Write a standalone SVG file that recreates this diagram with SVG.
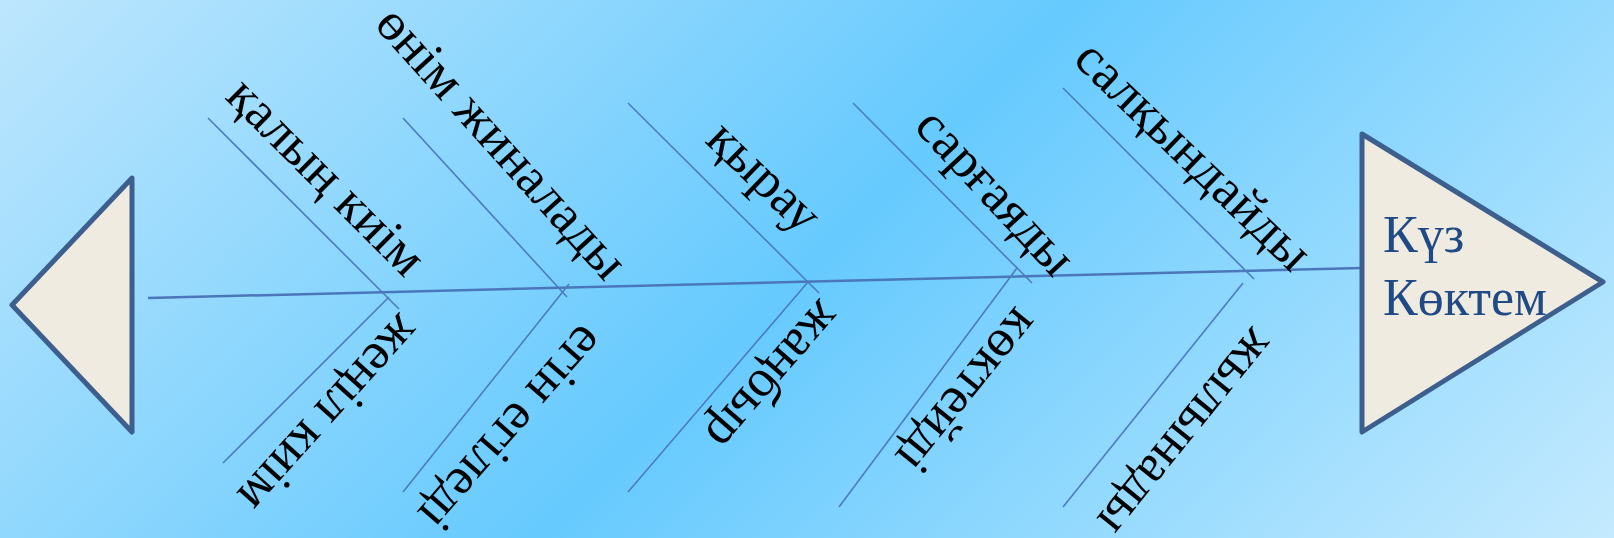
<svg xmlns="http://www.w3.org/2000/svg" width="1614" height="538" viewBox="0 0 1614 538">
  <defs>
    <linearGradient id="bg" gradientUnits="userSpaceOnUse" x1="269" y1="-269" x2="1345" y2="807">
      <stop offset="0" stop-color="#BDE6FD"/>
      <stop offset="0.5" stop-color="#66CAFE"/>
      <stop offset="1" stop-color="#C4EAFE"/>
    </linearGradient>
    <style>
      .head { fill: #EFEBE0; stroke: #3D5F8D; stroke-width: 5; stroke-linejoin: round; }
      .bone { stroke: #4C7BC0; stroke-width: 1.6; fill: none; }
      .spine { stroke: #4A77BA; stroke-width: 2.5; fill: none; }
      .lbl { font-family: "Liberation Serif", "Times New Roman", serif; font-size: 53px; fill: #000; text-anchor: middle; }
      .ttl { font-family: "Liberation Serif", "Times New Roman", serif; font-size: 52px; fill: #1F4A85; }
    </style>
  </defs>
  <rect width="1614" height="538" fill="url(#bg)"/>

  <g id="connectors">
    <line class="spine" x1="148" y1="298" x2="1362" y2="268"/>
    <line class="bone" x1="208" y1="118" x2="399" y2="309"/>
    <line class="bone" x1="403" y1="118" x2="567" y2="297"/>
    <line class="bone" x1="628" y1="103" x2="819" y2="293"/>
    <line class="bone" x1="853" y1="103" x2="1032" y2="283"/>
    <line class="bone" x1="1063" y1="88" x2="1254" y2="279"/>
    <line class="bone" x1="389" y1="297" x2="223" y2="463"/>
    <line class="bone" x1="569" y1="284" x2="403" y2="492"/>
    <line class="bone" x1="808" y1="282" x2="628" y2="492"/>
    <line class="bone" x1="1017" y1="268" x2="839" y2="507"/>
    <line class="bone" x1="1243" y1="283" x2="1063" y2="507"/>
  </g>

  <g id="tail">
    <polygon class="head" points="132,178 12,305 132,432"/>
  </g>

  <g id="head">
    <polygon class="head" points="1362,134 1603,282 1362,432"/>
    <text class="ttl" x="1383" y="252">Күз</text>
    <text class="ttl" x="1383" y="315">Көктем</text>
  </g>

  <g id="label-kalyn-kiim"><text class="lbl" transform="translate(322,181) rotate(45)" dy="0.2em">қалың киім</text></g>
  <g id="label-onim"><text class="lbl" transform="translate(497,147) rotate(48)" dy="0.2em">өнім жиналады</text></g>
  <g id="label-kyrau"><text class="lbl" transform="translate(760,181) rotate(44)" dy="0.2em">қырау</text></g>
  <g id="label-sargayady"><text class="lbl" transform="translate(991,196) rotate(47)" dy="0.2em">сарғаяды</text></g>
  <g id="label-salkyndaidy"><text class="lbl" transform="translate(1189,160) rotate(44)" dy="0.2em">салқындайды</text></g>

  <g id="label-zhenil-kiim"><text class="lbl" transform="translate(325,410) rotate(132)" dy="0.2em">жеңіл киім</text></g>
  <g id="label-egin"><text class="lbl" transform="translate(507,424) rotate(131)" dy="0.2em">егін егіледі</text></g>
  <g id="label-zhanbyr"><text class="lbl" transform="translate(769,372) rotate(131)" dy="0.2em">жаңбыр</text></g>
  <g id="label-koktejdi"><text class="lbl" transform="translate(963,387) rotate(129)" dy="0.2em">көктейді</text></g>
  <g id="label-zhylynady"><text class="lbl" transform="translate(1182,429) rotate(129)" dy="0.2em">жылынады</text></g>
</svg>
